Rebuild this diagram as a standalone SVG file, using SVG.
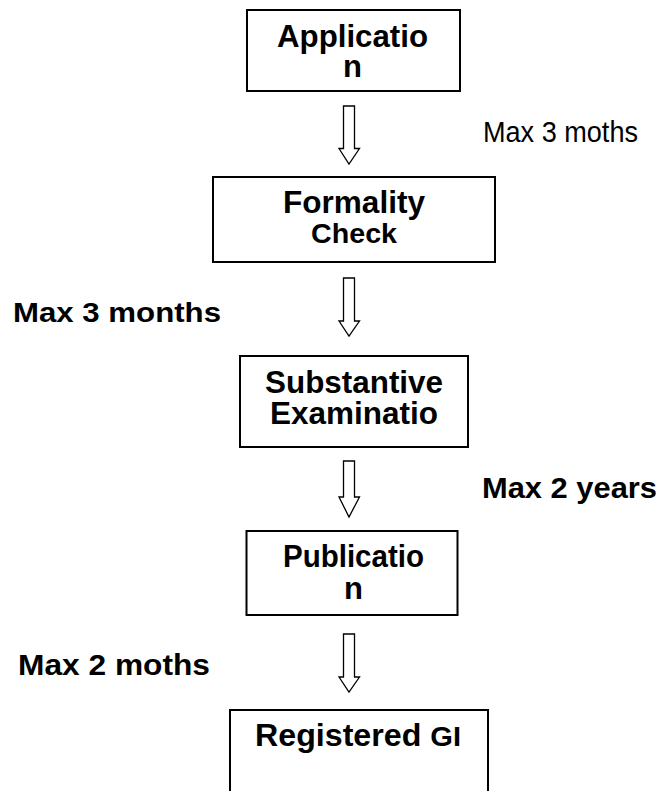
<svg xmlns="http://www.w3.org/2000/svg" width="664" height="791" viewBox="0 0 664 791">
<style>
.box{fill:#fff;stroke:#000;stroke-width:2}
.arr{fill:#fff;stroke:#000;stroke-width:1.3;stroke-linejoin:miter}
.t{font-family:"Liberation Sans",Arial,sans-serif;font-weight:bold;fill:#000;text-anchor:middle}
.l{font-family:"Liberation Sans",Arial,sans-serif;font-weight:bold;fill:#000}
.n{font-family:"Liberation Sans",Arial,sans-serif;fill:#000}
</style>
<rect width="664" height="791" fill="#fff"/>
<g id="connectors">
<path class="arr" d="M343.5,106 H354.5 V148.5 H359.5 L349,164 L339,148.5 H343.5 Z"/>
<path class="arr" d="M343.5,278 H354.5 V321 H359.5 L349,336 L339,321 H343.5 Z"/>
<path class="arr" d="M343.5,461 H354.5 V497 H359.5 L349,517 L339,497 H343.5 Z"/>
<path class="arr" d="M343.5,634 H354.5 V677 H359.5 L349,692 L339,677 H343.5 Z"/>
</g>
<g id="application">
<rect class="box" x="247" y="10" width="213" height="81"/>
<text class="t" x="352.5" y="47" font-size="31" textLength="151" lengthAdjust="spacingAndGlyphs">Applicatio</text>
<text class="t" x="352.5" y="77" font-size="31">n</text>
</g>
<g id="formality">
<rect class="box" x="213" y="177" width="282" height="85"/>
<text class="t" x="354" y="213" font-size="31" textLength="142" lengthAdjust="spacingAndGlyphs">Formality</text>
<text class="t" x="354" y="243" font-size="28" textLength="86" lengthAdjust="spacingAndGlyphs">Check</text>
</g>
<g id="substantive">
<rect class="box" x="240" y="356" width="228" height="91"/>
<text class="t" x="354" y="393" font-size="31" textLength="178" lengthAdjust="spacingAndGlyphs">Substantive</text>
<text class="t" x="354" y="423.5" font-size="31" textLength="168" lengthAdjust="spacingAndGlyphs">Examinatio</text>
</g>
<g id="publication">
<rect class="box" x="246.5" y="531" width="211" height="84"/>
<text class="t" x="353.5" y="566.5" font-size="31" textLength="141" lengthAdjust="spacingAndGlyphs">Publicatio</text>
<text class="t" x="353.5" y="598.5" font-size="31">n</text>
</g>
<g id="registered">
<rect class="box" x="230" y="710" width="258" height="100"/>
<text class="l" x="255" y="745.5" font-size="31" textLength="206" lengthAdjust="spacingAndGlyphs">Registered <tspan font-size="28">GI</tspan></text>
</g>
<g id="labels">
<text class="n" x="483" y="142" font-size="29.5" textLength="155" lengthAdjust="spacingAndGlyphs">Max 3 moths</text>
<text class="l" x="13" y="322" font-size="28.5" textLength="208" lengthAdjust="spacingAndGlyphs">Max 3 months</text>
<text class="l" x="482" y="498" font-size="29.5" textLength="175" lengthAdjust="spacingAndGlyphs">Max 2 years</text>
<text class="l" x="18" y="675" font-size="29" textLength="192" lengthAdjust="spacingAndGlyphs">Max 2 moths</text>
</g>
</svg>
